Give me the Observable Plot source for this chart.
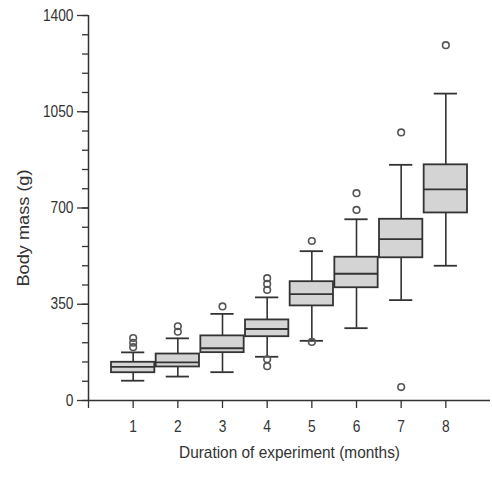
<!DOCTYPE html>
<html>
<head>
<meta charset="utf-8">
<script src="https://cdn.jsdelivr.net/npm/d3@7"></script>
<script src="https://cdn.jsdelivr.net/npm/@observablehq/plot@0.6"></script>
<style>
  html, body { margin: 0; padding: 0; background: #fff; }
  #chart svg { display: block; }
</style>
</head>
<body>
<div id="chart"></div>
<script>
// ---- Data ----
const months       = [1, 2, 3, 4, 5, 6, 7, 8];
const whiskerLow   = [72, 87, 103, 159, 217, 263, 365, 490];
const q1           = [101, 122, 174, 232, 344, 410, 519, 682];
const median       = [122, 139, 190, 260, 387, 461, 587, 768];
const q3           = [139, 169, 235, 293, 432, 521, 659, 857];
const whiskerHigh  = [175, 226, 315, 375, 543, 659, 857, 1116];
const outlierMonth = [1, 1, 1, 2, 2, 3, 4, 4, 4, 4, 4, 5, 5, 6, 6, 7, 7, 8];
const outlierValue = [194, 210, 227, 250, 270, 342, 402, 424, 445, 150, 125, 580, 213, 754, 693, 975, 49, 1292];
const yMajorTicks  = [0, 350, 700, 1050, 1400];
const xTicks       = [0, 1, 2, 3, 4, 5, 6, 7, 8];
const xLabel = "Duration of experiment (months)";
const yLabel = "Body mass (g)";

const boxes = months.map((m, i) => ({
  month: m, lo: whiskerLow[i], q1: q1[i], med: median[i], q3: q3[i], hi: whiskerHigh[i]
}));
const outliers = outlierMonth.map((m, i) => ({month: m, value: outlierValue[i]}));

const BW = 0.485, CW = 0.26;
const ink = "#333";
const font = "'Liberation Sans', Arial, sans-serif";

const chart = Plot.plot({
  width: 492,
  height: 481,
  marginLeft: 88,
  marginRight: 2,
  marginTop: 15,
  marginBottom: 81,
  style: {fontFamily: font, color: ink, background: "#fff"},
  x: {domain: [0, 9], axis: null},
  y: {domain: [0, 1400], axis: null},
  marks: [
    // minor y ticks
    Plot.axisY({ticks: d3.range(0, 1401, 70), tickSize: 6, tickFormat: () => "", stroke: ink, strokeWidth: 1.3}),
    // major y ticks + labels
    Plot.axisY({ticks: yMajorTicks, tickSize: 11, tickPadding: 4, fontSize: 16, stroke: ink, strokeWidth: 1.3,
      tickFormat: d => String(d), label: null, fill: ink}),
    // x ticks + labels
    Plot.axisX({ticks: xTicks, tickSize: 8, tickPadding: 12, fontSize: 16, stroke: ink, strokeWidth: 1.3,
      tickFormat: d => d === 0 ? "" : String(d), label: null, fill: ink}),
    // axis lines
    Plot.ruleY([0], {x1: 0, x2: 9, stroke: ink, strokeWidth: 1.5}),
    Plot.ruleX([0], {y1: 0, y2: 1400, stroke: ink, strokeWidth: 1.5}),
    // whisker stems
    Plot.ruleX(boxes, {x: "month", y1: "q3", y2: "hi", stroke: ink, strokeWidth: 1.6}),
    Plot.ruleX(boxes, {x: "month", y1: "lo", y2: "q1", stroke: ink, strokeWidth: 1.6}),
    // caps
    Plot.ruleY(boxes, {y: "hi", x1: d => d.month - CW, x2: d => d.month + CW, stroke: ink, strokeWidth: 1.8}),
    Plot.ruleY(boxes, {y: "lo", x1: d => d.month - CW, x2: d => d.month + CW, stroke: ink, strokeWidth: 1.8}),
    // boxes
    Plot.rect(boxes, {x1: d => d.month - BW, x2: d => d.month + BW, y1: "q1", y2: "q3",
      fill: "#d4d4d4", stroke: ink, strokeWidth: 1.8}),
    // medians
    Plot.ruleY(boxes, {y: "med", x1: d => d.month - BW, x2: d => d.month + BW, stroke: ink, strokeWidth: 1.8}),
    // outliers
    Plot.dot(outliers, {x: "month", y: "value", r: 3.3, stroke: "#555", strokeWidth: 1.6, fill: "none"}),
    // axis titles
    Plot.text([xLabel], {frameAnchor: "bottom", dy: 57, text: d => d, fontSize: 17, fill: ink}),
    Plot.text([yLabel], {frameAnchor: "left", textAnchor: "middle", dx: -65, dy: 20, rotate: -90,
      text: d => d, fontSize: 16, fill: ink})
  ]
});
document.getElementById("chart").append(chart);

// narrow the type to mimic the condensed face of the reference
function squeeze(selector, factor) {
  chart.querySelectorAll(selector).forEach(t => {
    const w = t.getComputedTextLength();
    if (w > 0) {
      t.setAttribute("textLength", w * factor);
      t.setAttribute("lengthAdjust", "spacingAndGlyphs");
    }
  });
}
squeeze('g[aria-label="y-axis tick label"] text', 0.86);
squeeze('g[aria-label="x-axis tick label"] text', 0.86);
const titles = chart.querySelectorAll('g[aria-label="text"] text');
if (titles[0]) { titles[0].setAttribute("textLength", 221); titles[0].setAttribute("lengthAdjust", "spacingAndGlyphs"); }
if (titles[1]) { titles[1].setAttribute("textLength", 117); titles[1].setAttribute("lengthAdjust", "spacingAndGlyphs"); }
</script>
</body>
</html>
